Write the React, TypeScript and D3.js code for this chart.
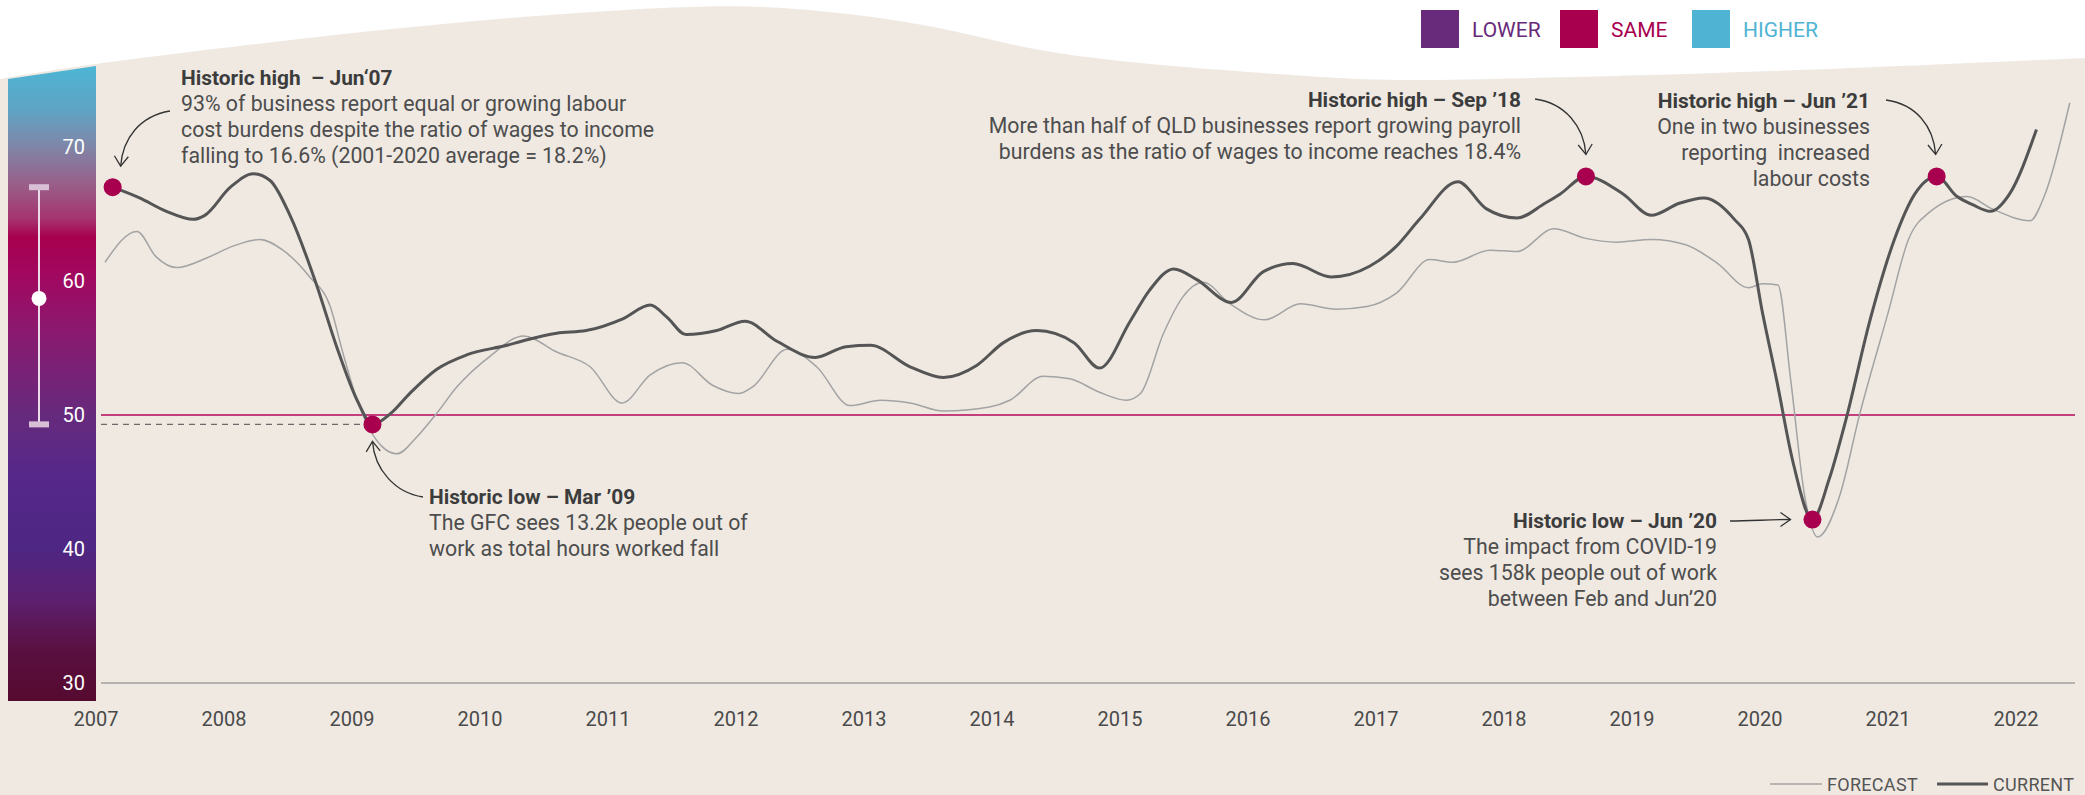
import React from 'react';
import * as d3 from 'd3';

// ---------- data ----------
const yearTicks = [2007, 2008, 2009, 2010, 2011, 2012, 2013, 2014, 2015, 2016, 2017, 2018, 2019, 2020, 2021, 2022];
const valueTicks = [30, 40, 50, 60, 70];

const currentDates = [2007.13, 2007.34, 2007.55, 2007.76, 2007.85, 2008.05, 2008.23, 2008.36, 2008.52, 2008.72, 2008.88, 2009.04, 2009.16, 2009.30, 2009.45, 2009.66, 2009.90, 2010.21, 2010.36, 2010.60, 2010.83, 2011.12, 2011.33, 2011.46, 2011.61, 2011.85, 2012.07, 2012.32, 2012.62, 2012.86, 2013.05, 2013.36, 2013.62, 2013.88, 2014.09, 2014.35, 2014.64, 2014.84, 2015.08, 2015.23, 2015.42, 2015.60, 2015.87, 2016.12, 2016.35, 2016.65, 2016.95, 2017.16, 2017.34, 2017.64, 2017.86, 2018.10, 2018.32, 2018.44, 2018.64, 2018.93, 2019.15, 2019.37, 2019.56, 2019.80, 2019.91, 2020.02, 2020.13, 2020.26, 2020.41, 2020.54, 2020.67, 2020.86, 2021.05, 2021.21, 2021.38, 2021.54, 2021.66, 2021.80, 2021.95, 2022.16];
const currentValues = [67.0, 66.2, 65.2, 64.6, 64.9, 67.0, 68.0, 67.5, 64.8, 59.8, 55.1, 51.1, 49.3, 50.1, 51.6, 53.4, 54.5, 55.2, 55.6, 56.1, 56.3, 57.2, 58.2, 57.3, 56.0, 56.3, 57.0, 55.5, 54.3, 55.1, 55.2, 53.6, 52.8, 53.7, 55.4, 56.3, 55.4, 53.5, 57.0, 59.3, 60.9, 60.1, 58.4, 60.7, 61.3, 60.3, 61.1, 62.6, 64.6, 67.4, 65.4, 64.7, 65.8, 66.5, 67.8, 66.5, 64.9, 65.8, 66.2, 64.6, 63.1, 57.6, 52.6, 46.4, 42.2, 45.2, 49.6, 57.1, 63.1, 66.5, 67.8, 66.3, 65.7, 65.2, 66.5, 71.3];

const forecastDates = [2007.07, 2007.32, 2007.47, 2007.63, 2007.86, 2008.07, 2008.28, 2008.46, 2008.67, 2008.83, 2008.93, 2009.04, 2009.14, 2009.24, 2009.35, 2009.51, 2009.66, 2009.82, 2010.08, 2010.34, 2010.60, 2010.86, 2011.11, 2011.33, 2011.58, 2011.82, 2012.02, 2012.13, 2012.40, 2012.63, 2012.89, 2013.13, 2013.36, 2013.62, 2013.98, 2014.14, 2014.40, 2014.61, 2014.84, 2015.05, 2015.16, 2015.34, 2015.49, 2015.65, 2015.86, 2016.13, 2016.41, 2016.69, 2016.93, 2017.16, 2017.42, 2017.60, 2017.89, 2018.10, 2018.39, 2018.63, 2018.88, 2019.15, 2019.42, 2019.67, 2019.91, 2020.02, 2020.14, 2020.24, 2020.35, 2020.45, 2020.62, 2020.78, 2021.00, 2021.16, 2021.32, 2021.62, 2021.81, 2022.11, 2022.22, 2022.42];
const forecastValues = [61.4, 63.7, 61.8, 61.0, 61.7, 62.6, 63.1, 62.3, 60.3, 58.1, 54.6, 51.1, 48.9, 47.6, 47.1, 48.4, 50.1, 52.1, 54.4, 55.9, 54.7, 53.6, 50.9, 53.0, 53.9, 52.2, 51.6, 52.1, 54.9, 53.6, 50.7, 51.1, 50.9, 50.3, 50.6, 51.1, 52.9, 52.7, 51.7, 51.1, 51.6, 56.1, 58.8, 59.9, 58.3, 57.1, 58.3, 57.9, 58.1, 59.1, 61.6, 61.4, 62.3, 62.2, 63.9, 63.2, 62.9, 63.1, 62.7, 61.3, 59.5, 59.8, 59.7, 52.6, 43.9, 40.9, 43.9, 50.1, 57.6, 63.1, 65.1, 66.3, 65.4, 64.5, 66.3, 73.3];

const highlightDates = [2007.13, 2009.16, 2018.64, 2020.41, 2021.38];
const sameLevel = 50;
const rangeHigh = 67;
const rangeLow = 49.3;
const rangeMid = 58.7;

const legendLabels = ['LOWER', 'SAME', 'HIGHER'];
const legendColors = ['#682a7a', '#a8004f', '#4fb3d3'];
const seriesLabels = ['FORECAST', 'CURRENT'];

// ---------- layout ----------
const W = 2085;
const H = 795;
const FONT = "Roboto, 'Open Sans', 'DejaVu Sans', sans-serif";
const BEIGE = '#efe9e2';
const TITLE_SIZE = 20.9;
const BODY_SIZE = 21.3;

const waveTop: [number, number][] = [
  [0, 79], [96, 64], [265, 43], [464, 22], [663, 8], [796, 9], [928, 26], [1040, 50],
  [1173, 66], [1307, 76], [1413, 80], [1573, 77], [1773, 71], [2085, 58],
];

const annotations = [
  {
    title: 'Historic high  – Jun‘07',
    lines: ['93% of business report equal or growing labour', 'cost burdens despite the ratio of wages to income', 'falling to 16.6% (2001-2020 average = 18.2%)'],
    tx: 181, ty: 85, anchor: 'start', di: 0,
    from: [170, 111], c1: [140, 116], endOff: [8, -21], c2Off: [2, -28],
  },
  {
    title: 'Historic low – Mar ’09',
    lines: ['The GFC sees 13.2k people out of', 'work as total hours worked fall'],
    tx: 429, ty: 504, anchor: 'start', di: 1,
    from: [423, 497], c1: [395, 493], endOff: [0, 17], c2Off: [2, 28],
  },
  {
    title: 'Historic high – Sep ’18',
    lines: ['More than half of QLD businesses report growing payroll', 'burdens as the ratio of wages to income reaches 18.4%'],
    tx: 1521, ty: 107, anchor: 'end', di: 2,
    from: [1535, 99], c1: [1565, 103], endOff: [0, -22], c2Off: [-2, -28],
  },
  {
    title: 'Historic low – Jun ’20',
    lines: ['The impact from COVID-19', 'sees 158k people out of work', 'between Feb and Jun’20'],
    tx: 1717, ty: 528, anchor: 'end', di: 3,
    from: [1730, 521], c1: [1750, 521], endOff: [-22, 0], c2Off: [-20, 0],
  },
  {
    title: 'Historic high – Jun ’21',
    lines: ['One in two businesses', 'reporting  increased', 'labour costs'],
    tx: 1870, ty: 108, anchor: 'end', di: 4,
    from: [1886, 100], c1: [1916, 104], endOff: [-1, -22], c2Off: [-2, -28],
  },
];

const gradientStops: [number, string][] = [
  [0, '#4db5d4'], [0.07, '#5fa3c3'], [0.12, '#7c8aab'], [0.185, '#98608a'], [0.24, '#a53470'],
  [0.27, '#a8004f'], [0.34, '#9f0a62'], [0.42, '#8a1a70'], [0.55, '#662a7d'], [0.65, '#55288a'],
  [0.76, '#4e2683'], [0.84, '#5d2070'], [0.92, '#5a1040'], [1, '#560a30'],
];

export default function App() {
  const x = d3.scaleLinear().domain([2007, 2022]).range([96, 2016]);
  const y = d3.scaleLinear().domain([30, 70]).range([683, 147]);

  const current: [number, number][] = currentDates.map((d, i) => [d, currentValues[i]]);
  const forecast: [number, number][] = forecastDates.map((d, i) => [d, forecastValues[i]]);

  const line = d3
    .line<[number, number]>()
    .x((d) => x(d[0]))
    .y((d) => y(d[1]))
    .curve(d3.curveMonotoneX);

  const wavePath =
    (d3.line<[number, number]>().x((d) => d[0]).y((d) => d[1]).curve(d3.curveNatural)(waveTop) || '') +
    `L${W},${H}L0,${H}Z`;

  const dots = highlightDates.map((t) => {
    const i = currentDates.indexOf(t);
    return { t, v: currentValues[i], cx: x(t), cy: y(currentValues[i]) };
  });

  const plotLeft = 101;
  const plotRight = 2075;
  const barLeft = 8;
  const barRight = 96;
  const barTopL = 79;
  const barTopR = 66;
  const barBottom = 701;
  const rangeX = 39;

  const lowDot = dots[1];

  return (
    <svg
      width={W}
      height={H}
      viewBox={`0 0 ${W} ${H}`}
      style={{ position: 'absolute', left: 0, top: 0, display: 'block', background: '#ffffff' }}
      fontFamily={FONT}
    >
      <defs>
        <linearGradient id="scaleGrad" gradientUnits="userSpaceOnUse" x1={0} y1={barTopR} x2={0} y2={barBottom}>
          {gradientStops.map(([o, c], i) => (
            <stop key={i} offset={o} stopColor={c} />
          ))}
        </linearGradient>
        <marker id="arrowHead" viewBox="-12 -10 14 20" refX={0} refY={0} markerWidth={14} markerHeight={20} markerUnits="userSpaceOnUse" orient="auto">
          <path d="M-10,-7 L0,0 L-10,7" fill="none" stroke="#333" strokeWidth={1.3} />
        </marker>
      </defs>

      <rect x={0} y={0} width={W} height={H} fill="#ffffff" />
      <path d={wavePath} fill={BEIGE} />

      {/* legend top */}
      {legendLabels.map((l, i) => {
        const lx = [1421, 1560, 1692][i];
        return (
          <g key={l}>
            <rect x={lx} y={10} width={38} height={38} fill={legendColors[i]} />
            <text x={lx + 51} y={36.5} fontSize={21} fill={legendColors[i]}>
              {l}
            </text>
          </g>
        );
      })}

      {/* gradient scale bar */}
      <path d={`M${barLeft},${barTopL}L${barRight},${barTopR}L${barRight},${barBottom}L${barLeft},${barBottom}Z`} fill="url(#scaleGrad)" />
      <line x1={rangeX} x2={rangeX} y1={y(rangeHigh)} y2={y(rangeLow)} stroke="#ecdcea" strokeWidth={2} />
      <rect x={rangeX - 10} y={y(rangeHigh) - 3} width={20} height={6} fill="#d8bfd6" />
      <rect x={rangeX - 10} y={y(rangeLow) - 3} width={20} height={6} fill="#d8bfd6" />
      <circle cx={rangeX} cy={y(rangeMid)} r={7.5} fill="#ffffff" />
      {valueTicks.map((v) => (
        <text key={v} x={85} y={y(v)} dy="0.36em" textAnchor="end" fontSize={20} fill="#ffffff">
          {v}
        </text>
      ))}

      {/* axis & reference lines */}
      <line x1={plotLeft} x2={plotRight} y1={y(30)} y2={y(30)} stroke="#a0a0a0" strokeWidth={1.6} />
      <line x1={plotLeft} x2={plotRight} y1={y(sameLevel)} y2={y(sameLevel)} stroke="#c4407c" strokeWidth={2} />
      <line x1={plotLeft} x2={lowDot.cx} y1={lowDot.cy} y2={lowDot.cy} stroke="#6a6a6a" strokeWidth={1.4} strokeDasharray="6 5" />

      {yearTicks.map((yr) => (
        <text key={yr} x={x(yr)} y={726} textAnchor="middle" fontSize={20} fill="#4a4a4a">
          {yr}
        </text>
      ))}

      {/* series */}
      <path d={line(forecast) || ''} fill="none" stroke="#a3a3a3" strokeWidth={1.5} />
      <path d={line(current) || ''} fill="none" stroke="#555555" strokeWidth={3} strokeLinejoin="round" />

      {dots.map((d) => (
        <circle key={d.t} cx={d.cx} cy={d.cy} r={9} fill="#a8004f" />
      ))}

      {/* annotations */}
      {annotations.map((a, i) => {
        const dot = dots[a.di];
        const ex = dot.cx + a.endOff[0];
        const ey = dot.cy + a.endOff[1];
        const c2x = ex + a.c2Off[0];
        const c2y = ey + a.c2Off[1];
        return (
          <g key={i}>
            <text x={a.tx} y={a.ty} textAnchor={a.anchor} fontSize={TITLE_SIZE} fontWeight={700} fill="#3c3c3c" style={{ whiteSpace: 'pre' }}>
              {a.title}
            </text>
            {a.lines.map((l, j) => (
              <text key={j} x={a.tx} y={a.ty + 26 * (j + 1)} textAnchor={a.anchor} fontSize={BODY_SIZE} fill="#4d4d4d" style={{ whiteSpace: 'pre' }}>
                {l}
              </text>
            ))}
            <path
              d={`M${a.from[0]},${a.from[1]}C${a.c1[0]},${a.c1[1]} ${c2x},${c2y} ${ex},${ey}`}
              fill="none"
              stroke="#333"
              strokeWidth={1.3}
              markerEnd="url(#arrowHead)"
            />
          </g>
        );
      })}

      {/* bottom legend */}
      <line x1={1770} x2={1822} y1={784} y2={784} stroke="#a3a3a3" strokeWidth={1.5} />
      <text x={1827} y={791} fontSize={18} fill="#555" letterSpacing={0.3}>
        {seriesLabels[0]}
      </text>
      <line x1={1937} x2={1988} y1={784} y2={784} stroke="#555" strokeWidth={3} />
      <text x={1993} y={791} fontSize={18} fill="#555" letterSpacing={0.3}>
        {seriesLabels[1]}
      </text>
    </svg>
  );
}
